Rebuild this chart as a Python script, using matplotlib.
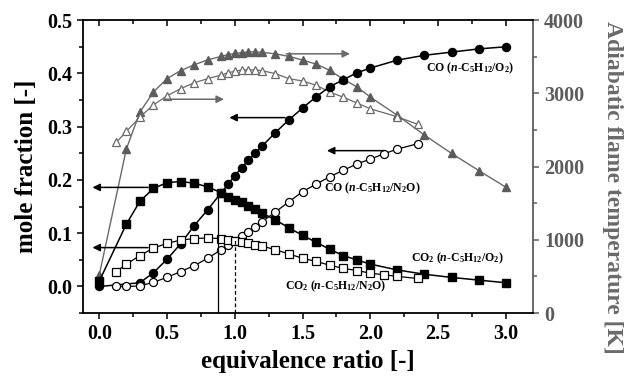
import matplotlib
matplotlib.use("Agg")
import matplotlib.pyplot as plt
from matplotlib.ticker import MultipleLocator

plt.rcParams.update({
    "font.family": "Liberation Serif",
    "font.weight": "bold",
    "axes.labelweight": "bold",
    "mathtext.fontset": "custom",
    "mathtext.rm": "Liberation Serif:bold",
    "mathtext.it": "Liberation Serif:italic:bold",
    "mathtext.bf": "Liberation Serif:bold",
})

# n-C5H12 / O2 mixtures
phi_o2 = [0.0, 0.2, 0.3, 0.4, 0.5, 0.6, 0.7, 0.8, 0.9, 0.95, 1.0, 1.05, 1.1, 1.15,
          1.2, 1.3, 1.4, 1.5, 1.6, 1.7, 1.8, 1.9, 2.0, 2.2, 2.4, 2.6, 2.8, 3.0]
co2_o2 = [0.010, 0.117, 0.160, 0.184, 0.195, 0.197, 0.194, 0.187, 0.176, 0.168, 0.163,
          0.158, 0.152, 0.145, 0.138, 0.125, 0.110, 0.096, 0.083, 0.070, 0.058, 0.050,
          0.042, 0.031, 0.023, 0.017, 0.012, 0.007]
temp_o2 = [520, 2240, 2745, 3019, 3201, 3310, 3390, 3458, 3505, 3530, 3545, 3555, 3565,
           3567, 3560, 3540, 3505, 3455, 3400, 3315, 3195, 3090, 2950, 2700, 2430, 2180,
           1947, 1720]
phi_co_o2 = [0.0, 0.3, 0.4, 0.5, 0.6, 0.7, 0.8, 0.9, 0.95, 1.0, 1.05, 1.1, 1.15, 1.2,
             1.3, 1.4, 1.5, 1.6, 1.7, 1.8, 1.9, 2.0, 2.2, 2.4, 2.6, 2.8, 3.0]
co_o2 = [0.000, 0.007, 0.026, 0.051, 0.080, 0.114, 0.144, 0.176, 0.192, 0.208, 0.223,
         0.237, 0.250, 0.263, 0.289, 0.313, 0.335, 0.356, 0.375, 0.388, 0.401, 0.410,
         0.425, 0.434, 0.440, 0.446, 0.450]

# n-C5H12 / N2O mixtures
phi_n2o = [0.125, 0.2, 0.3, 0.4, 0.5, 0.6, 0.7, 0.8, 0.9, 0.95, 1.0, 1.05, 1.1, 1.15,
           1.2, 1.3, 1.4, 1.5, 1.6, 1.7, 1.8, 1.9, 2.0, 2.1, 2.2, 2.35]
co_n2o = [0.000, 0.000, 0.001, 0.008, 0.017, 0.028, 0.039, 0.053, 0.069, 0.078, 0.086,
          0.094, 0.103, 0.112, 0.121, 0.140, 0.159, 0.178, 0.192, 0.206, 0.218, 0.230,
          0.239, 0.249, 0.258, 0.268]
co2_n2o = [0.028, 0.042, 0.058, 0.072, 0.081, 0.087, 0.090, 0.091, 0.090, 0.088, 0.086,
           0.083, 0.081, 0.078, 0.076, 0.069, 0.061, 0.053, 0.047, 0.040, 0.034, 0.030,
           0.025, 0.022, 0.019, 0.015]
phi_t_n2o = [0.125, 0.2, 0.3, 0.4, 0.5, 0.6, 0.7, 0.8, 0.9, 0.95, 1.0, 1.05, 1.1, 1.15,
             1.2, 1.3, 1.4, 1.5, 1.6, 1.7, 1.8, 1.9, 2.0, 2.2, 2.35]
temp_n2o = [2330, 2480, 2677, 2843, 2966, 3064, 3144, 3201, 3250, 3280, 3303, 3318, 3322,
            3320, 3310, 3270, 3200, 3170, 3112, 3020, 2948, 2870, 2790, 2680, 2578]

# peak positions marked by vertical guide lines
phi_peak_o2, co_peak_o2 = 0.875, 0.177
phi_peak_n2o, co_peak_n2o = 1.0, 0.087

GRAY = "#5c5c5c"
TGRAY = "#6a6a6a"

fig = plt.figure(figsize=(6.24, 3.80), dpi=100)
ax = fig.add_axes([0.133, 0.176, 0.721, 0.771])
ax2 = ax.twinx()
ax.set_zorder(ax2.get_zorder() + 1)
ax.patch.set_visible(False)

ms = 5.8
ax.plot(phi_co_o2, co_o2, "-o", color="k", mfc="k", mec="k", ms=ms, lw=1.1)
ax.plot(phi_o2, co2_o2, "-s", color="k", mfc="k", mec="k", ms=ms, lw=1.1)
ax.plot(phi_n2o, co_n2o, "-o", color="k", mfc="white", mec="k", ms=ms, lw=0.9, mew=0.9)
ax.plot(phi_n2o, co2_n2o, "-s", color="k", mfc="white", mec="k", ms=ms, lw=0.9, mew=0.9)

ax2.plot(phi_o2, temp_o2, "-^", color=TGRAY, mfc=GRAY, mec=GRAY, ms=6.4, lw=1.0)
ax2.plot(phi_t_n2o, temp_n2o, "-^", color=TGRAY, mfc="white", mec=TGRAY, ms=6.4,
         lw=0.9, mew=0.9)

# vertical guides at the CO/CO2 crossings
ax.plot([phi_peak_o2, phi_peak_o2], [-0.05, co_peak_o2], color="k", lw=0.9)
ax.plot([phi_peak_n2o, phi_peak_n2o], [-0.05, co_peak_n2o], color="k", lw=0.9,
        ls=(0, (3, 2)))

# arrows pointing to the axis each curve belongs to
def arrow(axes, start, end, color):
    axes.annotate("", xy=end, xytext=start,
                  arrowprops=dict(arrowstyle="-|>", color=color, lw=1.1,
                                  mutation_scale=11, shrinkA=0, shrinkB=0))

arrow(ax, (1.37, 0.317), (0.96, 0.317), "k")
arrow(ax, (2.10, 0.255), (1.68, 0.255), "k")
arrow(ax, (0.36, 0.186), (-0.05, 0.186), "k")
arrow(ax, (0.36, 0.073), (-0.05, 0.073), "k")
arrow(ax2, (0.48, 2920), (0.92, 2920), TGRAY)
arrow(ax2, (1.38, 3540), (1.85, 3540), TGRAY)

# curve labels
fs = 8.5
ax.text(2.41, 0.410, r"CO ($\mathit{n}$-$\mathrm{C_5H_{12}/O_2}$)", fontsize=fs,
        va="center", ha="left")
ax.text(1.66, 0.184, r"CO ($\mathit{n}$-$\mathrm{C_5H_{12}/N_2O}$)", fontsize=fs,
        va="center", ha="left")
ax.text(2.30, 0.052, r"CO$_2$ ($\mathit{n}$-$\mathrm{C_5H_{12}/O_2}$)", fontsize=fs,
        va="center", ha="left")
ax.text(1.37, 0.000, r"CO$_2$ ($\mathit{n}$-$\mathrm{C_5H_{12}/N_2O}$)", fontsize=fs,
        va="center", ha="left")

# axes limits and ticks
ax.set_xlim(-0.12, 3.2)
ax.set_ylim(-0.05, 0.5)
ax2.set_ylim(0, 4000)

ax.xaxis.set_minor_locator(MultipleLocator(0.25))
ax.yaxis.set_minor_locator(MultipleLocator(0.05))
ax.set_xticks([0, 0.5, 1.0, 1.5, 2.0, 2.5, 3.0])
ax.set_xticklabels(["0.0", "0.5", "1.0", "1.5", "2.0", "2.5", "3.0"])
ax.set_yticks([0.0, 0.1, 0.2, 0.3, 0.4, 0.5])
ax.set_yticklabels(["0.0", "0.1", "0.2", "0.3", "0.4", "0.5"])

ax.tick_params(axis="both", which="both", direction="out", width=1.1, labelsize=14.5,
               right=False)
ax.tick_params(axis="both", which="major", length=4.5)
ax.tick_params(axis="both", which="minor", length=3)

top = ax.secondary_xaxis("top")
top.set_xticks([0, 0.5, 1.0, 1.5, 2.0, 2.5, 3.0])
top.xaxis.set_minor_locator(MultipleLocator(0.25))
top.tick_params(which="both", direction="in", labeltop=False, width=1.1)
top.tick_params(which="major", length=4.5)
top.tick_params(which="minor", length=3)
top.spines["top"].set_linewidth(1.3)

ax2.yaxis.set_minor_locator(MultipleLocator(500))
ax2.set_yticks([0, 1000, 2000, 3000, 4000])
ax2.tick_params(axis="y", which="both", direction="out", width=1.1, colors=GRAY,
                labelsize=14.5)
ax2.tick_params(axis="y", which="major", length=4.5)
ax2.tick_params(axis="y", which="minor", length=3)
ax2.spines["right"].set_color(GRAY)

for s in ("left", "bottom"):
    ax.spines[s].set_linewidth(1.3)
ax.spines["top"].set_visible(False)
ax.spines["right"].set_visible(False)
ax2.spines["right"].set_linewidth(1.3)
ax2.spines["left"].set_visible(False)
ax2.spines["bottom"].set_visible(False)
ax2.spines["top"].set_visible(False)

ax.set_xlabel("equivalence ratio [-]", fontsize=18, fontweight="bold", labelpad=4)
ax.set_ylabel("mole fraction [-]", fontsize=18, fontweight="bold", labelpad=6)
ax2.set_ylabel("Adiabatic flame temperature [K]", fontsize=17, fontweight="bold",
               color=TGRAY, rotation=270, va="center", ha="center")
ax2.yaxis.set_label_coords(1.178, 0.43)

fig.savefig("out.png", dpi=100)
